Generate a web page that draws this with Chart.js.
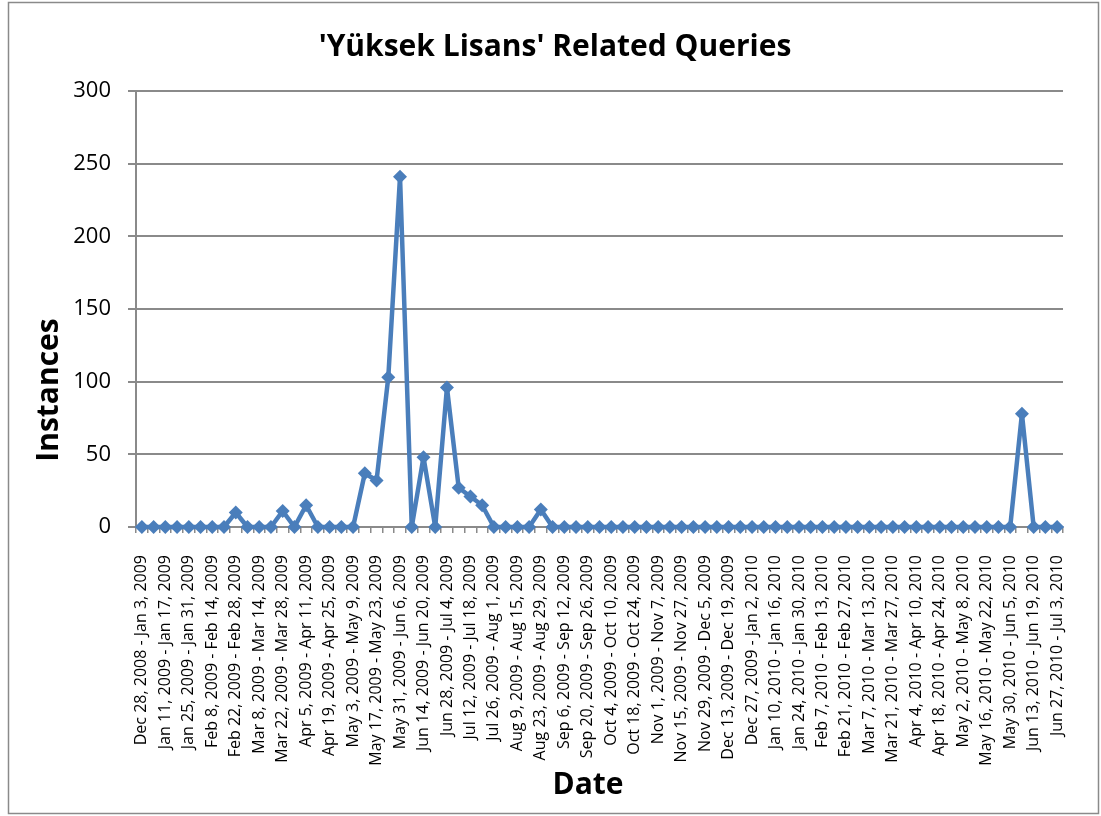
<!DOCTYPE html>
<html lang="en">
<head>
  <meta charset="UTF-8" />
  <title>'Yüksek Lisans' Related Queries</title>
  <script src="https://cdn.jsdelivr.net/npm/chart.js"></script>
  <style>
    body {margin:0; background:#fff;}
    #chart {position:absolute; left:0; top:0;}
  </style>
</head>
<body>
  <canvas id="chart" width="1101" height="816"></canvas>

  <script>
    // weekly ranges (every other one is shown on the axis)
    const weeks = [
      'Dec 28, 2008 - Jan 3, 2009', 'Jan 4, 2009 - Jan 10, 2009',
      'Jan 11, 2009 - Jan 17, 2009', 'Jan 18, 2009 - Jan 24, 2009',
      'Jan 25, 2009 - Jan 31, 2009', 'Feb 1, 2009 - Feb 7, 2009',
      'Feb 8, 2009 - Feb 14, 2009', 'Feb 15, 2009 - Feb 21, 2009',
      'Feb 22, 2009 - Feb 28, 2009', 'Mar 1, 2009 - Mar 7, 2009',
      'Mar 8, 2009 - Mar 14, 2009', 'Mar 15, 2009 - Mar 21, 2009',
      'Mar 22, 2009 - Mar 28, 2009', 'Mar 29, 2009 - Apr 4, 2009',
      'Apr 5, 2009 - Apr 11, 2009', 'Apr 12, 2009 - Apr 18, 2009',
      'Apr 19, 2009 - Apr 25, 2009', 'Apr 26, 2009 - May 2, 2009',
      'May 3, 2009 - May 9, 2009', 'May 10, 2009 - May 16, 2009',
      'May 17, 2009 - May 23, 2009', 'May 24, 2009 - May 30, 2009',
      'May 31, 2009 - Jun 6, 2009', 'Jun 7, 2009 - Jun 13, 2009',
      'Jun 14, 2009 - Jun 20, 2009', 'Jun 21, 2009 - Jun 27, 2009',
      'Jun 28, 2009 - Jul 4, 2009', 'Jul 5, 2009 - Jul 11, 2009',
      'Jul 12, 2009 - Jul 18, 2009', 'Jul 19, 2009 - Jul 25, 2009',
      'Jul 26, 2009 - Aug 1, 2009', 'Aug 2, 2009 - Aug 8, 2009',
      'Aug 9, 2009 - Aug 15, 2009', 'Aug 16, 2009 - Aug 22, 2009',
      'Aug 23, 2009 - Aug 29, 2009', 'Aug 30, 2009 - Sep 5, 2009',
      'Sep 6, 2009 - Sep 12, 2009', 'Sep 13, 2009 - Sep 19, 2009',
      'Sep 20, 2009 - Sep 26, 2009', 'Sep 27, 2009 - Oct 3, 2009',
      'Oct 4, 2009 - Oct 10, 2009', 'Oct 11, 2009 - Oct 17, 2009',
      'Oct 18, 2009 - Oct 24, 2009', 'Oct 25, 2009 - Oct 31, 2009',
      'Nov 1, 2009 - Nov 7, 2009', 'Nov 8, 2009 - Nov 14, 2009',
      'Nov 15, 2009 - Nov 27, 2009', 'Nov 22, 2009 - Nov 28, 2009',
      'Nov 29, 2009 - Dec 5, 2009', 'Dec 6, 2009 - Dec 12, 2009',
      'Dec 13, 2009 - Dec 19, 2009', 'Dec 20, 2009 - Dec 26, 2009',
      'Dec 27, 2009 - Jan 2, 2010', 'Jan 3, 2010 - Jan 9, 2010',
      'Jan 10, 2010 - Jan 16, 2010', 'Jan 17, 2010 - Jan 23, 2010',
      'Jan 24, 2010 - Jan 30, 2010', 'Jan 31, 2010 - Feb 6, 2010',
      'Feb 7, 2010 - Feb 13, 2010', 'Feb 14, 2010 - Feb 20, 2010',
      'Feb 21, 2010 - Feb 27, 2010', 'Feb 28, 2010 - Mar 6, 2010',
      'Mar 7, 2010 - Mar 13, 2010', 'Mar 14, 2010 - Mar 20, 2010',
      'Mar 21, 2010 - Mar 27, 2010', 'Mar 28, 2010 - Apr 3, 2010',
      'Apr 4, 2010 - Apr 10, 2010', 'Apr 11, 2010 - Apr 17, 2010',
      'Apr 18, 2010 - Apr 24, 2010', 'Apr 25, 2010 - May 1, 2010',
      'May 2, 2010 - May 8, 2010', 'May 9, 2010 - May 15, 2010',
      'May 16, 2010 - May 22, 2010', 'May 23, 2010 - May 29, 2010',
      'May 30, 2010 - Jun 5, 2010', 'Jun 6, 2010 - Jun 12, 2010',
      'Jun 13, 2010 - Jun 19, 2010', 'Jun 20, 2010 - Jun 26, 2010',
      'Jun 27, 2010 - Jul 3, 2010'
    ];

    const instances = [
      0, 0, 0, 0, 0, 0, 0, 0, 10, 0,
      0, 0, 11, 0, 15, 0, 0, 0, 0, 37,
      32, 103, 241, 0, 48, 0, 96, 27, 21, 15,
      0, 0, 0, 0, 12, 0, 0, 0, 0, 0,
      0, 0, 0, 0, 0, 0, 0, 0, 0, 0,
      0, 0, 0, 0, 0, 0, 0, 0, 0, 0,
      0, 0, 0, 0, 0, 0, 0, 0, 0, 0,
      0, 0, 0, 0, 0, 78, 0, 0, 0
    ];

    const yTicks = [0, 50, 100, 150, 200, 250, 300];

    const chartTitle = "'Yüksek Lisans' Related Queries";
    const xTitle = 'Date';
    const yTitle = 'Instances';

    const FONT = "'Open Sans', 'Noto Sans', sans-serif";
    const blue = '#4a7ebb';
    const grey = '#8a8a8a';

    // frame + titles drawn like the spreadsheet does (title centred on the whole frame)
    const decor = {
      id: 'decor',
      beforeDraw(c) {
        const ctx = c.ctx;
        ctx.save();
        ctx.fillStyle = '#fff';
        ctx.fillRect(0, 0, c.width, c.height);
        ctx.strokeStyle = grey;
        ctx.lineWidth = 1.5;
        ctx.strokeRect(8.5, 2.5, 1090, 811);
        ctx.restore();
      },
      afterDraw(c) {
        const ctx = c.ctx;
        ctx.save();
        ctx.fillStyle = '#000';
        ctx.textAlign = 'center';
        ctx.textBaseline = 'middle';
        ctx.font = 'bold 30px ' + FONT;
        ctx.fillText(chartTitle, 555, 47);
        ctx.fillText(xTitle, 588, 785);
        ctx.translate(49, 390);
        ctx.rotate(-Math.PI / 2);
        ctx.fillText(yTitle, 0, 0);
        ctx.restore();
      }
    };

    Chart.defaults.font.family = FONT;
    Chart.defaults.color = '#000';

    new Chart(document.getElementById('chart'), {
      type: 'line',
      data: {
        labels: weeks,
        datasets: [{
          data: instances,
          borderColor: blue,
          backgroundColor: blue,
          borderWidth: 4.5,
          borderJoinStyle: 'round',
          tension: 0,
          pointStyle: 'rectRot',
          pointRadius: 7,
          pointBorderWidth: 0,
          pointHoverRadius: 7,
          clip: false
        }]
      },
      options: {
        responsive: false,
        animation: false,
        devicePixelRatio: 1,
        layout: {padding: {left: 0, top: 91, right: 38, bottom: 0}},
        plugins: {legend: {display: false}, title: {display: false}, tooltip: {enabled: false}},
        scales: {
          x: {
            offset: true,
            grid: {offset: true, drawOnChartArea: false, drawTicks: true, tickLength: 6, color: grey, lineWidth: 1.5},
            border: {color: grey, width: 2},
            ticks: {
              autoSkip: false, minRotation: 90, maxRotation: 90, padding: 22,
              font: {size: 16},
              callback(v, i) { return i % 2 ? '' : this.getLabelForValue(v); }
            },
            afterFit(s) { s.height = 289; }
          },
          y: {
            min: 0, max: 300,
            afterBuildTicks(s) { s.ticks = yTicks.map(v => ({value: v})); },
            grid: {color: grey, lineWidth: 2, tickLength: 8},
            border: {color: grey, width: 2},
            ticks: {padding: 17, font: {size: 22}},
            afterFit(s) { s.width = 136; }
          }
        }
      },
      plugins: [decor]
    });
  </script>
</body>
</html>
